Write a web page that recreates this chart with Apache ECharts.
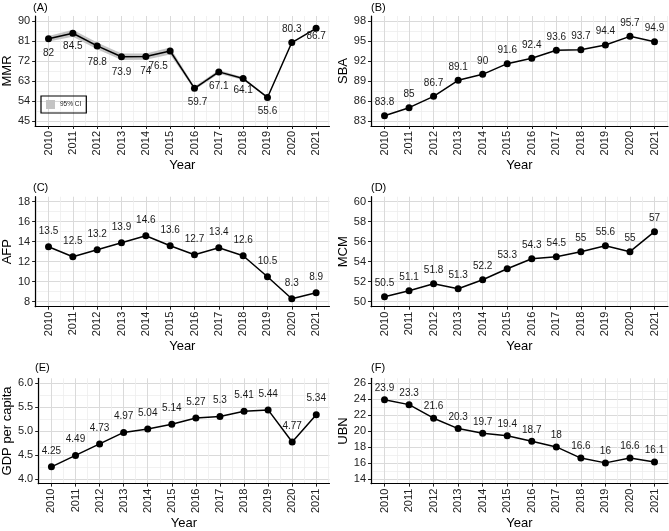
<!DOCTYPE html>
<html><head><meta charset="utf-8">
<script src="https://cdn.jsdelivr.net/npm/echarts@6/dist/echarts.min.js"></script>
<style>html,body{margin:0;padding:0;background:#fff}#c{width:669px;height:531px}</style>
</head><body><div id="c"></div>
<script>
// ---------- data ----------
const years = [2010, 2011, 2012, 2013, 2014, 2015, 2016, 2017, 2018, 2019, 2020, 2021];
const mmr = [82, 84.5, 78.8, 73.9, 74, 76.5, 59.7, 67.1, 64.1, 55.6, 80.3, 86.7];
const mmrLower = [80.8, 82.9, 77.3, 72.4, 72.6, 74.9, 58.9, 66.3, 63.5, 55.3, 80.0, 86.4];
const mmrUpper = [83.2, 86.1, 80.3, 75.4, 75.4, 78.1, 60.5, 67.9, 64.7, 55.9, 80.6, 87.0];
const sba = [83.8, 85, 86.7, 89.1, 90, 91.6, 92.4, 93.6, 93.7, 94.4, 95.7, 94.9];
const afp = [13.5, 12.5, 13.2, 13.9, 14.6, 13.6, 12.7, 13.4, 12.6, 10.5, 8.3, 8.9];
const mcm = [50.5, 51.1, 51.8, 51.3, 52.2, 53.3, 54.3, 54.5, 55, 55.6, 55, 57];
const gdp = [4.25, 4.49, 4.73, 4.97, 5.04, 5.14, 5.27, 5.3, 5.41, 5.44, 4.77, 5.34];
const ubn = [23.9, 23.3, 21.6, 20.3, 19.7, 19.4, 18.7, 18, 16.6, 16, 16.6, 16.1];

const mmrTicks = [45, 54, 63, 72, 81, 90];
const sbaTicks = [83, 86, 89, 92, 95, 98];
const afpTicks = [8, 10, 12, 14, 16, 18];
const mcmTicks = [50, 52, 54, 56, 58, 60];
const gdpTicks = [4.0, 4.5, 5.0, 5.5, 6.0];
const ubnTicks = [14, 16, 18, 20, 22, 24, 26];

const panelTags = ['(A)', '(B)', '(C)', '(D)', '(E)', '(F)'];
const yTitles = ['MMR', 'SBA', 'AFP', 'MCM', 'GDP per capita', 'UBN'];
const xTitle = 'Year';
const ciName = '95% CI';

// ---------- layout / style ----------
const FONT = 'Liberation Sans, Arial, Helvetica, sans-serif';
const grids = [
  {left: 33, top: 16, width: 296.5, height: 110},
  {left: 371, top: 16, width: 297, height: 110},
  {left: 33, top: 196.7, width: 296.5, height: 110},
  {left: 371, top: 196.7, width: 297, height: 110},
  {left: 35, top: 378.3, width: 294.5, height: 109.4},
  {left: 371, top: 378.3, width: 297, height: 109.4}
];
const tagPos = [[33, 2], [371, 2], [33, 182], [371, 182], [35, 362], [371, 362]];
const labelOffsetsA = [[0,14],[0,13],[0,16],[0,15],[0,15],[-12,15],[3,14],[0,14],[0,12],[0,14],[0,-13],[0,8]];
const panelDy = [null, -13.5, -15, -13.5, -16, -11.5];
const decimals = [0, 0, 0, 0, 1, 0];

const panels = [
  {vals: mmr, ticks: mmrTicks},
  {vals: sba, ticks: sbaTicks},
  {vals: afp, ticks: afpTicks},
  {vals: mcm, ticks: mcmTicks},
  {vals: gdp, ticks: gdpTicks},
  {vals: ubn, ticks: ubnTicks}
];

function mids(t) { const r = []; for (let i = 0; i < t.length - 1; i++) r.push((t[i] + t[i + 1]) / 2); return r; }

const xMin = years[0] - 0.05 * (years[years.length - 1] - years[0]);
const xMax = years[years.length - 1] + 0.05 * (years[years.length - 1] - years[0]);
const xMinor = [years[0] - 0.5].concat(mids(years), [years[years.length - 1] + 0.5]);

const MAJOR = {color: '#dadada', width: 1};
const MINOR = {color: '#ededed', width: 0.8};

const xAxes = [], yAxes = [], series = [], titles = [];
panels.forEach((p, i) => {
  const t = p.ticks;
  const span = t[t.length - 1] - t[0];
  const yMin = t[0] - 0.05 * span, yMax = t[t.length - 1] + 0.05 * span;
  xAxes.push({
    type: 'value', gridIndex: i, min: xMin, max: xMax, position: 'bottom',
    axisLine: {show: true, onZero: false, lineStyle: {color: '#000', width: 1.2}},
    axisTick: {show: true, length: 3, customValues: years, lineStyle: {color: '#222', width: 1}},
    axisLabel: {customValues: years, rotate: 90, margin: 5, fontSize: 11, color: '#222', fontFamily: FONT,
      formatter: v => String(v)},
    splitLine: {show: true, lineStyle: MAJOR},
    name: xTitle, nameLocation: 'middle', nameGap: 31,
    nameTextStyle: {fontSize: 13, color: '#000', fontFamily: FONT}
  });
  xAxes.push({
    type: 'value', gridIndex: i, min: xMin, max: xMax, position: 'bottom',
    axisLine: {show: false}, axisLabel: {show: false},
    axisTick: {show: false, customValues: xMinor},
    splitLine: {show: true, lineStyle: MINOR}, z: 0
  });
  yAxes.push({
    type: 'value', gridIndex: i, min: yMin, max: yMax, position: 'left',
    axisLine: {show: true, onZero: false, lineStyle: {color: '#000', width: 1.2}},
    axisTick: {show: true, length: 3, customValues: t, lineStyle: {color: '#222', width: 1}},
    axisLabel: {customValues: t, margin: 5, fontSize: 11, color: '#222', fontFamily: FONT,
      formatter: v => decimals[i] ? v.toFixed(decimals[i]) : String(v)},
    splitLine: {show: true, lineStyle: MAJOR},
    name: yTitles[i], nameLocation: 'middle', nameGap: 19, nameRotate: 90,
    nameTextStyle: {fontSize: 13, color: '#000', fontFamily: FONT}
  });
  yAxes.push({
    type: 'value', gridIndex: i, min: yMin, max: yMax, position: 'left',
    axisLine: {show: false}, axisLabel: {show: false},
    axisTick: {show: false, customValues: mids(t)},
    splitLine: {show: true, lineStyle: MINOR}, z: 0
  });
  titles.push({text: panelTags[i], left: tagPos[i][0], top: tagPos[i][1], padding: 0,
    textStyle: {fontSize: 11, fontWeight: 'normal', color: '#000', fontFamily: FONT}});
  series.push({
    type: 'line', xAxisIndex: 2 * i, yAxisIndex: 2 * i,
    data: years.map((y, k) => ({value: [y, p.vals[k]],
      label: {offset: i === 0 ? labelOffsetsA[k] : [0, panelDy[i]]}})),
    symbol: 'circle', symbolSize: 7, showSymbol: true,
    itemStyle: {color: '#000'}, lineStyle: {color: '#000', width: 1.5},
    label: {show: true, position: 'inside', fontSize: 10, color: '#1a1a1a', fontFamily: FONT,
      formatter: q => String(q.value[1])},
    z: 3, animation: false, silent: true
  });
});

series.unshift({
  type: 'custom', name: ciName, xAxisIndex: 0, yAxisIndex: 0,
  data: years.map((y, k) => [y, mmrLower[k], mmrUpper[k]]),
  encode: {x: 0, y: [1, 2]},
  itemStyle: {color: '#c4c4c4'},
  renderItem: (params, api) => {
    if (params.dataIndex !== 0) return null;
    const up = [], lo = [];
    for (let k = 0; k < years.length; k++) {
      up.push(api.coord([api.value(0, k), api.value(2, k)]));
      lo.push(api.coord([api.value(0, k), api.value(1, k)]));
    }
    return {type: 'polygon', shape: {points: up.concat(lo.reverse())}, style: {fill: '#c4c4c4'}};
  },
  z: 2, silent: true, animation: false
});

const chart = echarts.init(document.getElementById('c'), null, {renderer: 'canvas'});
chart.setOption({
  backgroundColor: '#fff',
  animation: false,
  title: titles,
  grid: grids.map(g => Object.assign({containLabel: false}, g)),
  xAxis: xAxes,
  yAxis: yAxes,
  legend: {
    data: [ciName], left: 41, top: 96, icon: 'rect', itemWidth: 9, itemHeight: 9,
    borderColor: '#000', borderWidth: 1.2, borderRadius: 0, padding: [4, 5, 4, 5],
    textStyle: {fontSize: 6.5, color: '#222', fontFamily: FONT}, selectedMode: false
  },
  series: series
});
</script></body></html>
